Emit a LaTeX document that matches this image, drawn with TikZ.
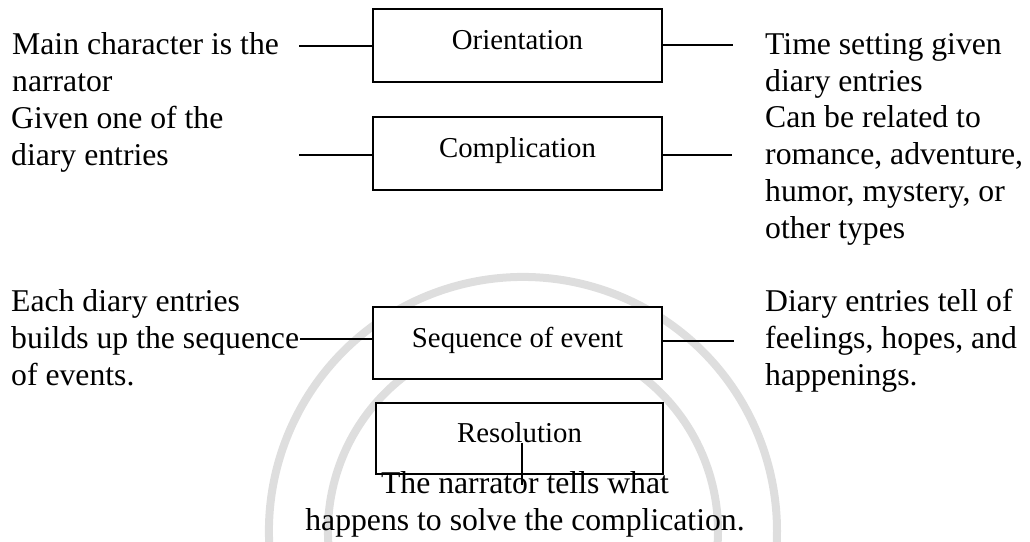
\documentclass[tikz,border=0pt]{standalone}
\usepackage{fontspec}
\setmainfont{Liberation Serif}
\begin{document}
\begin{tikzpicture}[x=1pt,y=-1pt,
  side/.style={inner sep=0pt, align=left, font=\fontsize{31.7}{37}\selectfont},
  centretext/.style={inner sep=0pt, align=center, font=\fontsize{31.7}{37}\selectfont},
  stagebox/.style={draw, line width=1.3pt, fill=white, inner sep=0pt,
    minimum width=289pt, minimum height=73pt, text height=20pt, text depth=12pt,
    font=\fontsize{28.8}{33}\selectfont},
  link/.style={line width=1.3pt},
  wm/.style={draw=black!13, line width=8pt}]
\useasboundingbox (0,0) rectangle (1030,541);
\clip (0,0) rectangle (1030,541);
% faint watermark rings
\draw[wm] (523,531) ++(160:254) arc[start angle=160, end angle=380, radius=254];
\draw[wm] (523,531) ++(160:195) arc[start angle=160, end angle=380, radius=195];

% stage boxes
\node[stagebox] (o) at (517.5,45.5) {Orientation};
\node[stagebox] (c) at (517.5,153.5) {Complication};
\node[stagebox, minimum height=72pt] (s) at (517.5,343) {Sequence of event};
\node[stagebox, minimum width=287pt, minimum height=71pt] (r) at (519.5,438.5) {Resolution};

% side texts (base anchor = baseline of the last line)
\node[side, anchor=base west] (tl1) at (12,91) {Main character is the\\narrator};
\node[side, anchor=base west] (tl2) at (11,165) {Given one of the\\diary entries};
\node[side, anchor=base west] (tl3) at (11,385) {Each diary entries\\builds up the sequence\\of events.};
\node[side, anchor=base west] (tr1) at (765,91) {Time setting given\\diary entries};
\node[side, anchor=base west] (tr2) at (765,238) {Can be related to\\romance, adventure,\\humor, mystery, or\\other types};
\node[side, anchor=base west] (tr3) at (765,385) {Diary entries tell of\\feelings, hopes, and\\happenings.};
\node[centretext, anchor=base] (tb) at (525,530) {The narrator tells what\\happens to solve the complication.};

% connector free ends
\coordinate (oL) at (299,46);
\coordinate (oR) at (733,45);
\coordinate (cL) at (299,155);
\coordinate (cR) at (732,155);
\coordinate (sL) at (300,339);
\coordinate (sR) at (734,341);
\coordinate (rB) at (522,485);

\draw[link] (oL) -- (oL -| o.west);
\draw[link] (oR -| o.east) -- (oR);
\draw[link] (cL) -- (cL -| c.west);
\draw[link] (cR -| c.east) -- (cR);
\draw[link] (sL) -- (sL -| s.west);
\draw[link] (sR -| s.east) -- (sR);
\draw[link] (rB |- r.base) -- (rB);
\end{tikzpicture}
\end{document}
